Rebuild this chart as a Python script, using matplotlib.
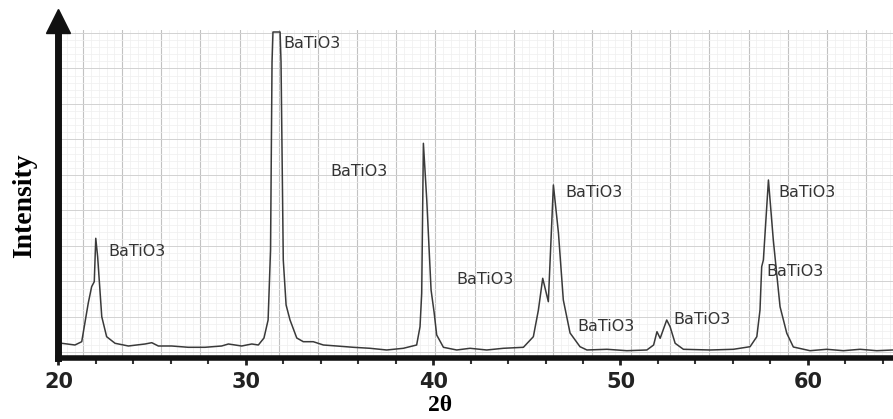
import numpy as np
from matplotlib import pyplot as plt

# XRD pattern (2theta in degrees, intensity in arbitrary units)
two_theta = [20.17, 20.88, 21.24, 21.59, 21.77, 21.91, 21.99, 22.09, 22.31, 22.57,
             23.02, 23.73, 24.62, 24.98, 25.33, 26.04, 26.93, 27.82, 28.71, 29.07,
             29.78, 30.32, 30.67, 30.97, 31.19, 31.32, 31.40, 31.45, 31.83, 31.88,
             32.00, 32.15, 32.36, 32.72, 33.07, 33.60, 34.14, 34.85, 35.74, 36.63,
             37.52, 38.41, 39.12, 39.30, 39.39, 39.48, 39.66, 39.89, 40.05, 40.19,
             40.55, 41.26, 41.97, 42.86, 43.75, 44.82, 45.35, 45.62, 45.85, 46.15,
             46.42, 46.69, 46.95, 47.31, 47.84, 48.21, 49.28, 50.34, 51.41, 51.77,
             51.95, 52.12, 52.47, 52.65, 52.92, 53.36, 54.79, 56.03, 56.92, 57.28,
             57.45, 57.54, 57.63, 57.90, 58.16, 58.52, 58.88, 59.23, 60.12, 61.01,
             61.90, 62.79, 63.68, 64.55]
intensity = [14.7, 13.0, 16.3, 55.0, 71.3, 76.3, 119.7, 101.3, 41.3, 21.3,
             14.7, 12.0, 14.0, 15.3, 12.0, 12.0, 10.7, 10.7, 12.0, 14.0,
             12.0, 14.0, 13.0, 20.0, 38.0, 108.0, 296.0, 326.0, 326.0, 296.0,
             98.0, 53.0, 38.0, 20.0, 16.3, 16.3, 13.0, 12.0, 10.7, 9.7,
             8.0, 9.7, 13.0, 31.3, 64.7, 214.7, 158.0, 68.0, 46.0, 23.0,
             10.7, 8.0, 9.7, 8.0, 9.7, 10.7, 21.3, 48.0, 79.7, 56.3,
             173.0, 125.0, 58.0, 25.0, 11.3, 8.0, 8.7, 7.3, 8.0, 13.0,
             26.3, 19.7, 38.0, 31.3, 14.7, 8.7, 8.0, 8.7, 11.3, 21.3,
             48.0, 91.3, 98.0, 178.0, 118.0, 51.3, 24.7, 11.0, 7.3, 8.7,
             7.3, 8.7, 7.3, 8.0]

# peak labels
label_text = ["BaTiO3"] * 9
label_x = [22.64, 31.99, 34.50, 47.04, 41.22, 47.68, 52.81, 58.42, 57.77]
label_y = [106, 315, 186, 165, 78, 31, 38, 165, 86]

x_ticks = [20, 30, 40, 50, 60]


def main():
    fig = plt.figure(figsize=(8.93, 4.19), dpi=100)
    ax = fig.add_axes([0.0655, 0.1456, 0.9345, 0.7828])
    ax.set_xlim(20, 64.55)
    ax.set_ylim(0, 328)

    # chart-paper grid
    for v in np.arange(21.31 - 2.09, 65, 2.09 / 5):
        ax.axvline(v, color='#efefef', lw=0.5, zorder=0)
    for v in np.arange(21.31 - 2.09, 65, 2.09):
        ax.axvline(v, color='#c2c2c2', lw=0.8, zorder=0)
    for h in np.arange(325, 0, -35.5 / 5):
        ax.axhline(h, color='#efefef', lw=0.5, zorder=0)
    for h in np.arange(325, 0, -35.5):
        ax.axhline(h, color='#d2d2d2', lw=0.7, zorder=0)

    ax.plot(two_theta, intensity, color='#3a3a3a', lw=1.1, zorder=3)

    for t, x, y in zip(label_text, label_x, label_y):
        ax.text(x, y, t, fontsize=11.5, color='#333333', ha='left', va='center',
                family='DejaVu Sans', zorder=4)

    for side in ['top', 'right']:
        ax.spines[side].set_visible(False)
    ax.spines['left'].set_linewidth(5)
    ax.spines['bottom'].set_linewidth(4)
    ax.spines['left'].set_color('#111111')
    ax.spines['bottom'].set_color('#111111')
    ax.spines['left'].set_zorder(5)
    ax.spines['bottom'].set_zorder(5)

    # arrow head on the y axis
    ax.plot([0], [1.028], marker='^', markersize=17, color='#111111',
            transform=ax.transAxes, clip_on=False)

    ax.set_yticks([])
    ax.set_xticks(x_ticks)
    ax.set_xticks(np.arange(20, 65, 2), minor=True)
    ax.tick_params(axis='x', which='major', length=5, width=2, direction='out',
                   pad=5, labelsize=15, colors='#222222')
    ax.tick_params(axis='x', which='minor', length=4, width=1.5, direction='out',
                   colors='#333333')
    for lab in ax.get_xticklabels():
        lab.set_fontweight('bold')

    fig.text(440 / 893, 1 - 405 / 419, '2θ', fontsize=17, fontweight='bold',
             family='Liberation Serif', ha='center', va='center')
    fig.text(25 / 893, 1 - 206 / 419, 'Intensity', fontsize=20, fontweight='bold',
             family='Liberation Serif', ha='center', va='center', rotation=90)

    fig.savefig('out.png', dpi=100)


if __name__ == "__main__":
    main()
